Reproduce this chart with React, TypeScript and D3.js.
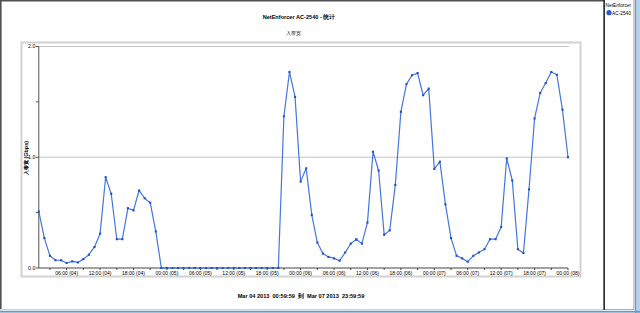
import React from "react";
import * as d3 from "d3";

const TITLE = "NetEnforcer AC-2540 - 统计";
const SUBTITLE = "入带宽";
const Y_LABEL = "入带宽 (Gbps)";
const RANGE_LABEL = "Mar 04 2013  00:59:59  到  Mar 07 2013  23:59:59";
const LEGEND_TITLE = "NetEnforcer";
const SERIES_NAME = "AC-2540";

// hourly samples, first at 2013-03-04 01:00, last at 2013-03-08 00:00
const startTime = Date.UTC(2013, 2, 4, 1, 0, 0);
const values: number[] = [
  // Mar 04 01:00 - 24:00
  0.51, 0.27, 0.11, 0.07, 0.07, 0.045, 0.06, 0.05, 0.08, 0.12, 0.19, 0.31,
  0.82, 0.67, 0.26, 0.26, 0.54, 0.52, 0.70, 0.63, 0.59, 0.33, 0, 0,
  // Mar 05
  0, 0, 0, 0, 0, 0, 0, 0, 0, 0, 0, 0,
  0, 0, 0, 0, 0, 0, 0, 0, 1.37, 1.77, 1.545, 0.78,
  // Mar 06
  0.90, 0.48, 0.23, 0.13, 0.10, 0.087, 0.066, 0.14, 0.22, 0.26, 0.22, 0.41,
  1.05, 0.88, 0.30, 0.34, 0.75, 1.41, 1.66, 1.74, 1.76, 1.56, 1.62, 0.895,
  // Mar 07
  0.96, 0.575, 0.27, 0.11, 0.087, 0.057, 0.11, 0.14, 0.17, 0.26, 0.26, 0.37,
  0.99, 0.79, 0.17, 0.135, 0.71, 1.35, 1.58, 1.67, 1.77, 1.745, 1.43, 1.0,
];
const yTicks = [0, 0.5, 1, 1.5, 2];
const yTickLabels = ["0.0", "", "1.0", "", "2.0"];
const gridValues = [1, 2];

const FONT = "'Liberation Sans', Arial, sans-serif";

export default function App() {
  const W = 640;
  const H = 313;
  const data = values.map((v, i) => ({ t: new Date(startTime + i * 3600000), v }));
  const x = d3
    .scaleUtc()
    .domain([data[0].t, data[data.length - 1].t])
    .range([38.8, 568]);
  const y = d3.scaleLinear().domain([0, 2]).range([268, 46.5]);
  const line = d3
    .line<{ t: Date; v: number }>()
    .x((d) => x(d.t))
    .y((d) => y(d.v));

  const end = new Date(data[data.length - 1].t.getTime() + 1);
  const minorTicks = d3.utcHour.every(3)!.range(data[0].t, end);
  const majorTicks = d3.utcHour.every(6)!.range(data[0].t, end);
  const fmt = (d: Date) => d3.utcFormat("%H:%M")(d) + " (" + d3.utcFormat("%d")(d) + ")";

  const x0 = x.range()[0];
  const x1 = x.range()[1];
  const y0 = y(0);

  return (
    <svg
      width={W}
      height={H}
      style={{ position: "fixed", left: 0, top: 0, background: "#fff" }}
      fontFamily={FONT}
    >
      <rect x={0} y={0} width={W} height={H} fill="#fff" />
      {/* window frame */}
      <rect x={0} y={0} width={604} height={1.5} fill="#505050" />
      <rect x={0} y={0} width={1.6} height={309} fill="#505050" />
      <rect x={603.3} y={0} width={1.7} height={310} fill="#303030" />
      <rect x={605} y={309} width={29} height={1} fill="#b0b0b0" />
      <rect x={633.5} y={0} width={1} height={310} fill="#9a9a9a" />
      <rect x={635} y={0} width={5} height={H} fill="#b7d2ee" />
      <rect x={635} y={0} width={1.2} height={H} fill="#6f9ed6" />
      <rect x={0} y={309.2} width={603} height={1} fill="#c8c8c8" />
      <rect x={0} y={310.8} width={W} height={1.8} fill="#5b9ad6" />

      {/* titles */}
      <text x={299} y={19} textAnchor="middle" fontSize={5.6} fontWeight="bold" fill="#000">
        {TITLE}
      </text>
      <text x={293} y={35} textAnchor="middle" fontSize={5.4} fill="#000">
        {SUBTITLE}
      </text>

      {/* plot frame */}
      <rect x={21.5} y={42.5} width={559} height={234} fill="none" stroke="#d2d2d2" strokeWidth={2} />

      {/* grid */}
      {gridValues.map((g) => (
        <line key={g} x1={x0} x2={x1 + 1} y1={y(g)} y2={y(g)} stroke="#c4c4c4" strokeWidth={1} />
      ))}

      {/* y axis */}
      <line x1={x0} x2={x0} y1={y(2)} y2={y0} stroke="#555" strokeWidth={1} />
      {yTicks.map((t, i) => (
        <g key={t}>
          <line x1={x0 - 3} x2={x0} y1={y(t)} y2={y(t)} stroke="#555" strokeWidth={1} />
          {yTickLabels[i] && (
            <text x={x0 - 3.5} y={y(t) + 1.9} textAnchor="end" fontSize={5.2} fill="#000">
              {yTickLabels[i]}
            </text>
          )}
        </g>
      ))}
      <text
        transform={`translate(27.5, 158) rotate(-90)`}
        textAnchor="middle"
        fontSize={5.4}
        fontWeight="bold"
        fill="#000"
      >
        {Y_LABEL}
      </text>

      {/* x axis */}
      <line x1={x0} x2={x1} y1={y0} y2={y0} stroke="#444" strokeWidth={1} />
      {minorTicks.map((t) => (
        <line key={t.getTime()} x1={x(t)} x2={x(t)} y1={y0} y2={y0 + 2} stroke="#444" strokeWidth={1} />
      ))}
      {majorTicks.map((t) => (
        <text key={t.getTime()} x={x(t)} y={275.3} textAnchor="middle" fontSize={5} fill="#000">
          {fmt(t)}
        </text>
      ))}

      {/* series */}
      <path d={line(data) || ""} fill="none" stroke="#4576dc" strokeWidth={1.2} strokeLinejoin="round" />
      {data.map((d, i) => (
        <rect key={i} x={x(d.t) - 1.05} y={y(d.v) - 1.05} width={2.1} height={2.1} fill="#1f50c8" />
      ))}

      {/* range label */}
      <text
        x={301}
        y={297.5}
        textAnchor="middle"
        fontSize={5.6}
        fontWeight="bold"
        fill="#000"
        style={{ whiteSpace: "pre" }}
      >
        {RANGE_LABEL}
      </text>

      {/* legend */}
      <text x={605.5} y={6.8} fontSize={4.8} fill="#000">
        {LEGEND_TITLE}
      </text>
      <circle cx={609} cy={12.7} r={2.6} fill="#2a5bd7" />
      <text x={612} y={14.6} fontSize={4.8} fill="#000">
        {SERIES_NAME}
      </text>
    </svg>
  );
}
